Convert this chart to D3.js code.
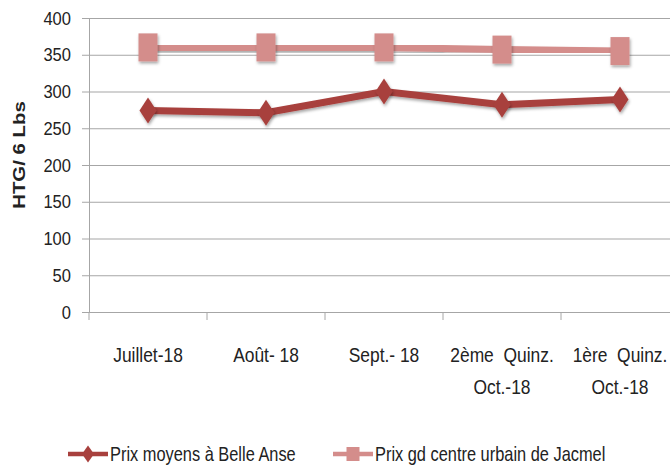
<!DOCTYPE html>
<html>
<head>
<meta charset="utf-8">
<script src="https://cdn.jsdelivr.net/npm/d3@7"></script>
<style>
  body { margin: 0; background: #fff; }
  text { font-family: "Liberation Sans", Arial, sans-serif; fill: #222; white-space: pre; }
</style>
</head>
<body>
<div id="viz"></div>
<script>
var w = 670;
var h = 471;

var categories = ["Juillet-18", "Août-18", "Sept.-18", "2ème Quinz. Oct.-18", "1ère Quinz. Oct.-18"];
var tickLabels = [["Juillet-18"], ["Août- 18"], ["Sept.- 18"], ["2ème  Quinz.", "Oct.-18"], ["1ère  Quinz.", "Oct.-18"]];
var belleAnse = [274, 271, 300, 282, 289];
var jacmel = [360, 360, 360, 357, 355];
var yTicks = [0, 50, 100, 150, 200, 250, 300, 350, 400];
var seriesNames = ["Prix moyens à Belle Anse", "Prix gd centre urbain de Jacmel"];

var mLeft = 89, mRight = 679, mTop = 18, mBottom = 312;

var svg = d3.select("#viz")
    .append("svg")
    .attr("width", w)
    .attr("height", h);

var defs = svg.append("defs");
var f = defs.append("filter").attr("id", "shadow")
    .attr("x", "-50%").attr("y", "-50%").attr("width", "200%").attr("height", "200%");
f.append("feDropShadow")
    .attr("dx", 1).attr("dy", 2).attr("stdDeviation", 1.5)
    .attr("flood-color", "#000").attr("flood-opacity", 0.35);

var x = d3.scaleBand().domain(categories).range([mLeft, mRight]);
var y = d3.scaleLinear().domain([0, 400]).range([mBottom, mTop]);

// grid + y axis
var yAxis = d3.axisLeft(y).tickValues(yTicks).tickSize(7).tickSizeOuter(0).tickFormat("");
var gy = svg.append("g").attr("transform", "translate(" + mLeft + ",0)").call(yAxis);
gy.select(".domain").attr("stroke", "#a6a6a6");
gy.selectAll(".tick line").attr("stroke", "#a6a6a6");
gy.selectAll(".tick").append("line")
    .attr("x1", 0).attr("x2", mRight - mLeft)
    .attr("stroke", "#a6a6a6").attr("stroke-width", 1.2);
gy.selectAll(".tick text").remove();
svg.selectAll("text.yl").data(yTicks).enter().append("text")
    .attr("class", "yl")
    .attr("text-anchor", "end")
    .attr("font-size", 19)
    .attr("transform", function(d) { return "translate(71," + (y(d) + 6.5) + ") scale(0.87,1)"; })
    .text(function(d) { return d; });

// x axis
var xAxis = d3.axisBottom(x).tickSize(0).tickFormat("");
var gx = svg.append("g").attr("transform", "translate(0," + mBottom + ")").call(xAxis);
gx.select(".domain").attr("stroke", "#a6a6a6").attr("stroke-width", 1.2);
gx.selectAll(".tick").remove();
var bounds = categories.map(function(c) { return x(c); });
bounds.push(mRight);
gx.selectAll("line.xt").data(bounds).enter().append("line")
    .attr("class", "xt")
    .attr("x1", function(d) { return d; }).attr("x2", function(d) { return d; })
    .attr("y1", 0).attr("y2", 8).attr("stroke", "#a6a6a6");

tickLabels.forEach(function(d, i) {
  var cx = x(categories[i]) + x.bandwidth() / 2;
  d.forEach(function(lbl, j) {
    svg.append("text")
      .attr("text-anchor", "middle")
      .attr("font-size", 20)
      .attr("transform", "translate(" + cx + "," + (362 + j * 32) + ") scale(0.87,1)")
      .text(lbl);
  });
});

// y label
svg.append("text")
    .attr("transform", "translate(25,155) rotate(-90) scale(1.2,1)")
    .attr("text-anchor", "middle")
    .attr("font-size", 17)
    .attr("font-weight", "bold")
    .attr("fill", "#111")
    .text("HTG/ 6 Lbs");

var line = d3.line()
    .x(function(d, i) { return x(categories[i]) + x.bandwidth() / 2; })
    .y(function(d) { return y(d); });

function drawSeries(data, color, shape) {
  var g = svg.append("g");
  g.append("path").datum(data)
    .attr("d", line)
    .attr("fill", "none")
    .attr("stroke", color)
    .attr("stroke-width", 7)
    .attr("filter", "url(#shadow)");
  g.selectAll("path.m").data(data).enter().append("path")
    .attr("class", "m")
    .attr("transform", function(d, i) { return "translate(" + (x(categories[i]) + x.bandwidth() / 2) + "," + y(d) + ")"; })
    .attr("d", shape)
    .attr("fill", color)
    .attr("filter", "url(#shadow)");
}

var diamond = "M0,-13L8.5,0L0,13L-8.5,0Z";
var square = "M-9.5,-14H9.5V14H-9.5Z";

drawSeries(jacmel, "#d48d8b", square);
drawSeries(belleAnse, "#a8403d", diamond);

// legend
var legend = svg.append("g");
var items = [
  { name: seriesNames[0], color: "#a8403d", shape: "M0,-8.5L6,0L0,8.5L-6,0Z", x: 68 },
  { name: seriesNames[1], color: "#d48d8b", shape: "M-6.5,-7H6.5V7H-6.5Z", x: 333 }
];
items.forEach(function(it) {
  legend.append("line")
    .attr("x1", it.x).attr("x2", it.x + 40)
    .attr("y1", 454).attr("y2", 454)
    .attr("stroke", it.color).attr("stroke-width", 4.5);
  legend.append("path")
    .attr("transform", "translate(" + (it.x + 20) + ",454)")
    .attr("d", it.shape).attr("fill", it.color);
  legend.append("text")
    .attr("transform", "translate(" + (it.x + 42) + ",461) scale(0.82,1)")
    .attr("font-size", 20)
    .text(it.name);
});
</script>
</body>
</html>
